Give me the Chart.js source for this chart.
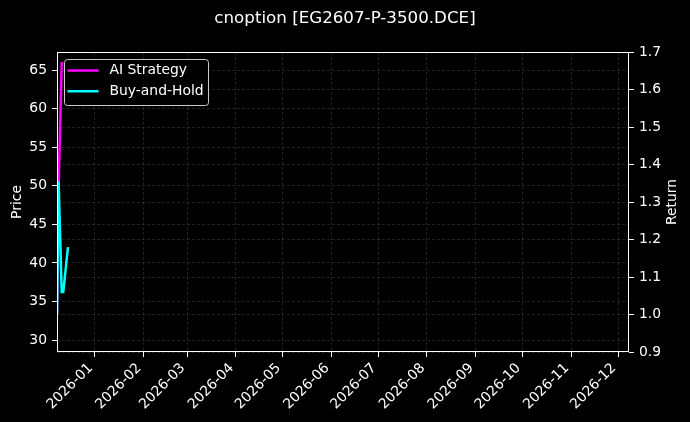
<!DOCTYPE html>
<html>
<head>
<meta charset="utf-8">
<script src="https://cdn.jsdelivr.net/npm/chart.js@4.4.1/dist/chart.umd.min.js"></script>
<style>
html, body { margin: 0; padding: 0; background: #000; }
#wrap { width: 690px; height: 422px; }
</style>
</head>
<body>
<div id="wrap"><canvas id="returnChart" width="690" height="422"></canvas></div>
<script>
const chartTitle = "cnoption [EG2607-P-3500.DCE]";
const seriesNames = ["AI Strategy", "Buy-and-Hold"];
const leftAxisName = "Price";
const rightAxisName = "Return";

const aiDates = ["2025-12-08", "2025-12-09", "2025-12-10", "2025-12-11", "2025-12-12"];
const aiReturn = [1.0, 1.34, 1.5, 1.67, 1.67];

const bhDates = ["2025-12-08", "2025-12-09", "2025-12-10", "2025-12-11", "2025-12-12", "2025-12-15"];
const bhReturn = [1.0, 1.355, 1.21, 1.06, 1.06, 1.18];

const monthLabels = ["2026-01", "2026-02", "2026-03", "2026-04", "2026-05", "2026-06",
	"2026-07", "2026-08", "2026-09", "2026-10", "2026-11", "2026-12"];
const priceTicks = [30, 35, 40, 45, 50, 55, 60, 65];
const returnTicks = [0.9, 1.0, 1.1, 1.2, 1.3, 1.4, 1.5, 1.6, 1.7];

const xStart = "2025-12-08";
const xEnd = "2026-12-08";
const priceRange = [28.45, 67.33];
const returnRange = [0.9, 1.7];

const FONT = "DejaVu Sans";
const COLORS = ["#ff00ff", "#00ffff"];
const GRID = "rgba(255, 255, 255, 0.18)";

function dayNum(dateStr) {
	return (Date.parse(dateStr + "T00:00:00Z") - Date.UTC(2026, 0, 1)) / 86400000;
}

function toPoints(dates, values) {
	return dates.map((d, i) => ({ x: dayNum(d), y: values[i] }));
}

function createDataset(label, data, color, order) {
	return {
		label: label,
		data: data,
		borderColor: color,
		backgroundColor: color,
		borderWidth: 2.5,
		pointRadius: 0,
		tension: 0,
		clip: 0,
		yAxisID: "y2",
		order: order,
	};
}

const monthTicks = monthLabels.map((m) => dayNum(m + "-01"));

const framePlugin = {
	id: "frame",
	afterDatasetsDraw(chart) {
		const a = chart.chartArea;
		const ctx = chart.ctx;
		ctx.save();
		ctx.strokeStyle = "#ffffff";
		ctx.lineWidth = 1;
		ctx.strokeRect(Math.round(a.left) + 0.5, Math.round(a.top) + 0.5,
			Math.round(a.right - a.left) - 1, Math.round(a.bottom - a.top) - 1);
		ctx.restore();
	},
	afterDraw(chart) {
		const a = chart.chartArea;
		const ctx = chart.ctx;
		ctx.save();
		ctx.font = "13.9px '" + FONT + "'";
		ctx.fillStyle = "#ffffff";

		// right axis label reads bottom-to-top, as in matplotlib
		ctx.save();
		ctx.translate(a.right + 43, (a.top + a.bottom) / 2);
		ctx.rotate(-Math.PI / 2);
		ctx.textAlign = "center";
		ctx.textBaseline = "middle";
		ctx.fillText(rightAxisName, 0, 0);
		ctx.restore();

		// legend box inside the plot, top-left
		const x0 = a.left + 7.5;
		const y0 = a.top + 7.5;
		ctx.beginPath();
		ctx.roundRect(x0, y0, 144, 46, 3);
		ctx.fillStyle = "rgba(0, 0, 0, 0.8)";
		ctx.fill();
		ctx.strokeStyle = "#cccccc";
		ctx.lineWidth = 1;
		ctx.stroke();
		ctx.textBaseline = "middle";
		seriesNames.forEach((name, i) => {
			const y = y0 + 11 + i * 20.7;
			ctx.strokeStyle = COLORS[i];
			ctx.lineWidth = 2.5;
			ctx.beginPath();
			ctx.moveTo(x0 + 3, y);
			ctx.lineTo(x0 + 34, y);
			ctx.stroke();
			ctx.fillStyle = "#ffffff";
			ctx.fillText(name, x0 + 45, y);
		});
		ctx.restore();
	},
};

const ctx = document.getElementById("returnChart").getContext("2d");

new Chart(ctx, {
	type: "line",
	data: {
		datasets: [
			createDataset(seriesNames[0], toPoints(aiDates, aiReturn), COLORS[0], 1),
			createDataset(seriesNames[1], toPoints(bhDates, bhReturn), COLORS[1], 0),
		],
	},
	options: {
		responsive: false,
		animation: false,
		layout: { padding: 0 },
		plugins: {
			legend: { display: false },
			tooltip: { enabled: false },
			title: {
				display: true,
				text: chartTitle,
				color: "#ffffff",
				font: { family: FONT, size: 16.7, weight: "normal" },
				padding: { top: 9, bottom: 23 },
			},
		},
		scales: {
			x: {
				type: "linear",
				min: dayNum(xStart),
				max: dayNum(xEnd),
				afterBuildTicks(scale) {
					scale.ticks = monthTicks.map((v) => ({ value: v }));
				},
				afterFit(scale) {
					scale.height = 70;
				},
				ticks: {
					autoSkip: false,
					minRotation: 45,
					maxRotation: 45,
					padding: 3,
					labelOffset: -4,
					color: "#ffffff",
					font: { family: FONT, size: 13.9 },
					callback: (value) => monthLabels[monthTicks.indexOf(value)],
				},
				grid: { color: GRID, lineWidth: 0.7, tickColor: "#ffffff", tickLength: 5, tickWidth: 1 },
				border: { display: false, dash: [3, 2] },
			},
			y: {
				type: "linear",
				position: "left",
				display: true,
				min: priceRange[0],
				max: priceRange[1],
				afterBuildTicks(scale) {
					scale.ticks = priceTicks.map((v) => ({ value: v }));
				},
				afterFit(scale) {
					scale.width = 57;
				},
				ticks: {
					padding: 5,
					color: "#ffffff",
					font: { family: FONT, size: 13.9 },
					callback: (value) => String(value),
				},
				title: {
					display: true,
					text: leftAxisName,
					color: "#ffffff",
					font: { family: FONT, size: 13.9 },
					padding: { top: 9.5, bottom: 0 },
				},
				grid: { color: GRID, lineWidth: 0.7, tickColor: "#ffffff", tickLength: 5, tickWidth: 1 },
				border: { display: false, dash: [3, 2] },
			},
			y2: {
				type: "linear",
				position: "right",
				min: returnRange[0],
				max: returnRange[1],
				afterBuildTicks(scale) {
					scale.ticks = returnTicks.map((v) => ({ value: v }));
				},
				afterFit(scale) {
					scale.width = 61;
				},
				ticks: {
					padding: 5,
					color: "#ffffff",
					font: { family: FONT, size: 13.9 },
					callback: (value) => value.toFixed(1),
				},
				grid: { color: GRID, lineWidth: 0.7, tickColor: "#ffffff", tickLength: 5, tickWidth: 1 },
				border: { display: false, dash: [3, 2] },
			},
		},
	},
	plugins: [framePlugin],
});
</script>
</body>
</html>
